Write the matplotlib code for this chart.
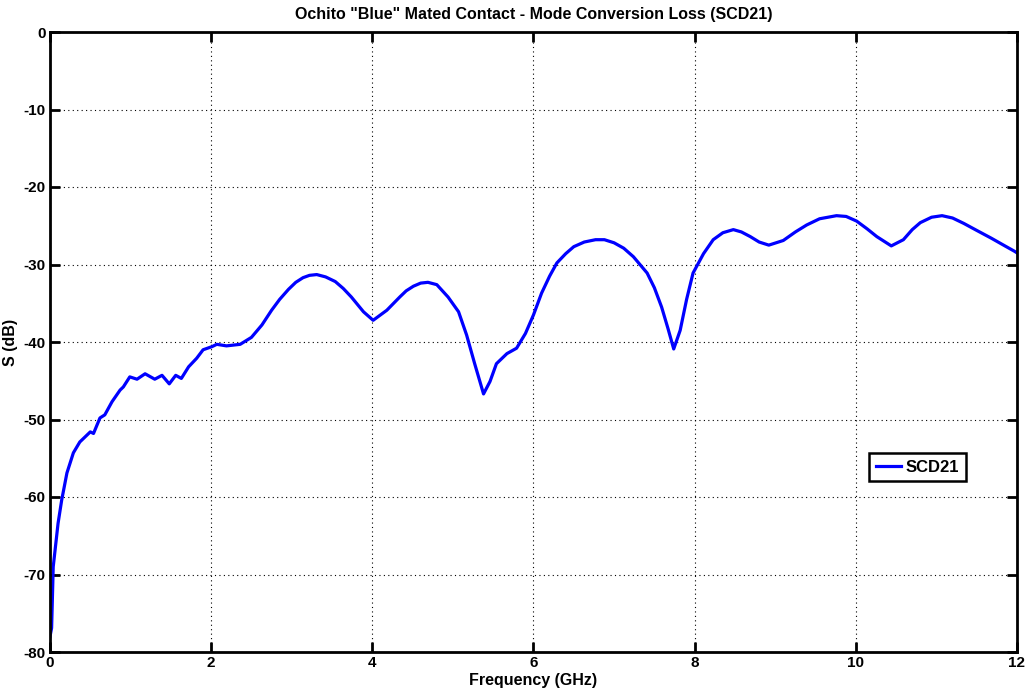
import numpy as np
import matplotlib
matplotlib.use('Agg')
import matplotlib.pyplot as plt

# SCD21 trace (GHz, dB)
freq = [0.0, 0.02, 0.04, 0.10, 0.145, 0.21, 0.29, 0.37, 0.50, 0.54, 0.62, 0.68, 0.77, 0.87,
        0.91, 0.99, 1.08, 1.18, 1.30, 1.39, 1.48, 1.56, 1.63, 1.72, 1.82, 1.90, 2.01, 2.07,
        2.19, 2.36, 2.50, 2.63, 2.75, 2.85, 2.96, 3.05, 3.14, 3.22, 3.31, 3.42, 3.54, 3.64,
        3.74, 3.89, 4.01, 4.18, 4.34, 4.42, 4.51, 4.60, 4.69, 4.80, 4.94, 5.07, 5.17, 5.27,
        5.38, 5.46, 5.54, 5.67, 5.79, 5.90, 6.00, 6.10, 6.20, 6.29, 6.40, 6.50, 6.63, 6.77,
        6.88, 7.00, 7.12, 7.24, 7.41, 7.50, 7.59, 7.67, 7.74, 7.82, 7.90, 7.98, 8.11, 8.23,
        8.35, 8.48, 8.58, 8.69, 8.80, 8.92, 9.10, 9.25, 9.39, 9.55, 9.76, 9.88, 10.01, 10.14,
        10.26, 10.44, 10.59, 10.70, 10.80, 10.94, 11.07, 11.20, 11.34, 11.50, 11.68, 11.85,
        11.97, 12.0]
scd21 = [-78.0, -76.9, -69.0, -63.4, -60.4, -56.9, -54.3, -52.9, -51.6, -51.8, -49.8, -49.4,
         -47.7, -46.2, -45.8, -44.5, -44.8, -44.1, -44.8, -44.3, -45.4, -44.3, -44.7, -43.2,
         -42.1, -41.0, -40.6, -40.3, -40.5, -40.3, -39.4, -37.8, -35.9, -34.5, -33.2, -32.3,
         -31.7, -31.4, -31.3, -31.6, -32.2, -33.1, -34.2, -36.1, -37.2, -35.9, -34.2, -33.4,
         -32.8, -32.4, -32.3, -32.6, -34.2, -36.1, -39.1, -42.8, -46.7, -45.1, -42.8, -41.5,
         -40.8, -38.9, -36.5, -33.7, -31.5, -29.8, -28.6, -27.7, -27.1, -26.8, -26.8, -27.2,
         -27.9, -29.0, -31.1, -33.0, -35.5, -38.3, -40.9, -38.5, -34.5, -31.1, -28.6, -26.8,
         -25.9, -25.5, -25.8, -26.4, -27.1, -27.5, -26.9, -25.8, -24.9, -24.1, -23.7, -23.8,
         -24.4, -25.4, -26.4, -27.6, -26.8, -25.5, -24.6, -23.9, -23.7, -24.0, -24.7, -25.6,
         -26.6, -27.6, -28.3, -28.5]

xticks = [0, 2, 4, 6, 8, 10, 12]
yticks = [0, -10, -20, -30, -40, -50, -60, -70, -80]

plt.rcParams['font.family'] = ['Liberation Sans', 'DejaVu Sans']
plt.rcParams['font.weight'] = 'bold'
plt.rcParams['axes.unicode_minus'] = False

fig = plt.figure(figsize=(10.29, 7.0), dpi=100)
ax = fig.add_axes([50/1029, 1-652/700, 967/1029, 620/700])
ax.plot(freq, scd21, color='#0000ff', linewidth=2.3, label='SCD21')

ax.set_xlim(0, 12)
ax.set_ylim(-80, 0)
ax.set_xticks(xticks)
ax.set_yticks(yticks)
ax.grid(True, color='black', linestyle=(0, (1, 3)), linewidth=0.8)
ax.tick_params(direction='in', length=7, width=2, labelsize=11, top=True, right=True, pad=3)
for lbl in ax.get_xticklabels() + ax.get_yticklabels():
    lbl.set_fontweight('bold')
for s in ax.spines.values():
    s.set_linewidth(2)

ax.set_title('Ochito "Blue" Mated Contact - Mode Conversion Loss (SCD21)', fontsize=11.5,
             fontweight='bold', pad=9)
ax.set_xlabel('Frequency (GHz)', fontsize=11.5, fontweight='bold', labelpad=2)
ax.set_ylabel('S (dB)', fontsize=11.5, fontweight='bold', labelpad=4)

leg = ax.legend(loc='center', bbox_to_anchor=(0.897, 0.298), fancybox=False, framealpha=1,
                edgecolor='black', fontsize=12, handlelength=1.5, borderpad=0.4,
                handletextpad=0.3, borderaxespad=0)
leg.get_frame().set_linewidth(1.8)
for t in leg.get_texts():
    t.set_fontweight('bold')

fig.savefig('out.png', dpi=100)
